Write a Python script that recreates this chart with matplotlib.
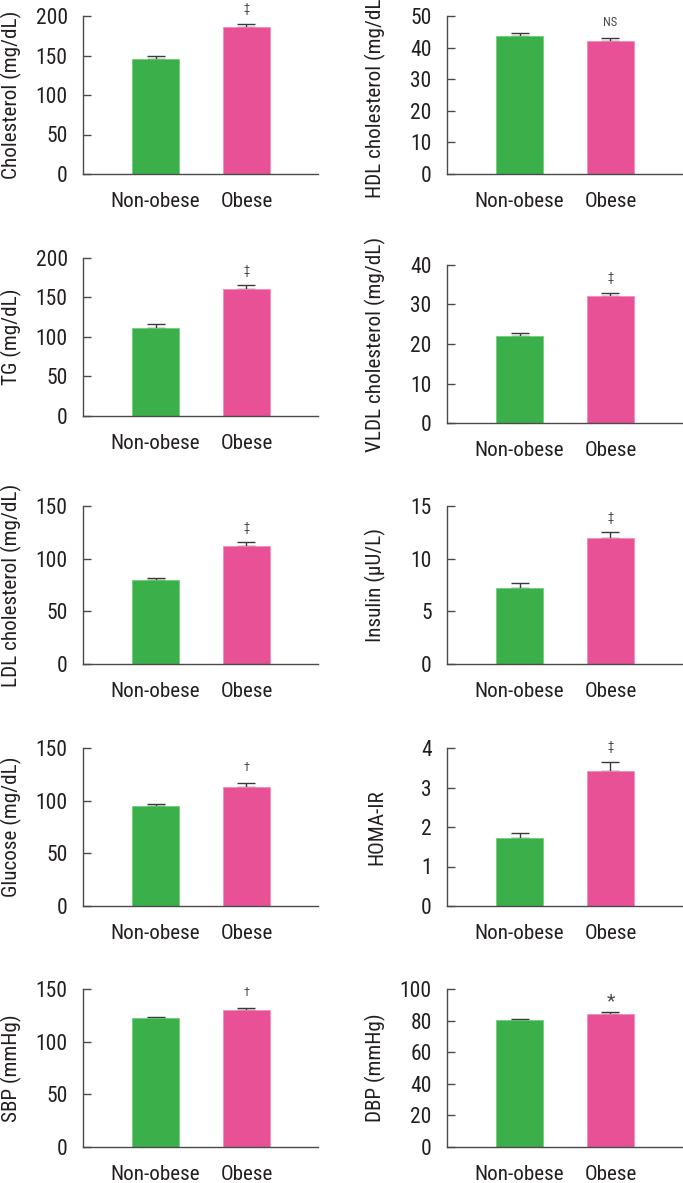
import numpy as np
import matplotlib
matplotlib.use("Agg")
import matplotlib.pyplot as plt

plt.rcParams['font.family'] = ['Roboto Condensed', 'Archivo Narrow', 'DejaVu Sans']

groups = ["Non-obese", "Obese"]
ylabels = ["Cholesterol (mg/dL)", "HDL cholesterol (mg/dL)", "TG (mg/dL)",
           "VLDL cholesterol (mg/dL)", "LDL cholesterol (mg/dL)", "Insulin (\u03bcU/L)",
           "Glucose (mg/dL)", "HOMA-IR", "SBP (mmHg)", "DBP (mmHg)"]
non_obese = [146, 43.8, 110.4, 22.0, 79.5, 7.2, 95.2, 1.73, 122.2, 80.2]
non_obese_se = [3.4, 0.7, 5.1, 0.9, 2.5, 0.5, 1.6, 0.12, 1.6, 1.0]
obese = [186.5, 42.1, 160.3, 32.1, 112.0, 11.96, 112.6, 3.42, 130.0, 84.2]
obese_se = [3.5, 0.9, 4.7, 0.84, 3.5, 0.54, 4.4, 0.22, 2.0, 1.0]
ymax = [200, 50, 200, 40, 150, 15, 150, 4, 150, 100]
ystep = [50, 10, 50, 10, 50, 5, 50, 1, 50, 20]
marks = ["\u2021", "NS", "\u2021", "\u2021", "\u2021", "\u2021", "\u2020", "\u2021", "\u2020", "*"]

W, H = 683, 1183
green = "#3bb04a"
pink = "#e85196"
txt = "#231f20"
axcol = "#4a4a4a"

fig = plt.figure(figsize=(W / 100, H / 100), dpi=100)

# axes boxes in pixels: (left, top)
lefts = [83, 447]
tops = [[16, 16], [257.7, 265], [506, 506], [748, 748], [989, 989]]
aw, ah = 235, 158

for i in range(10):
    r, c = divmod(i, 2)
    x0 = lefts[c]
    y0 = tops[r][c]
    ax = fig.add_axes([x0 / W, 1 - (y0 + ah) / H, aw / W, ah / H])
    x = np.arange(2)
    vals = [non_obese[i], obese[i]]
    errs = [non_obese_se[i], obese_se[i]]
    ax.errorbar(x, vals, yerr=[[0, 0], errs], fmt='none', ecolor="#3a3a3a",
                elinewidth=1.0, capsize=6.5, capthick=1.0, zorder=1)
    ax.bar(x, vals, width=0.516, color=[green, pink],
           edgecolor=["#6fcf7a", "#f58cbc"], linewidth=0.6, zorder=2)
    top = obese[i] + obese_se[i]
    fs = 9 if marks[i] != "*" else 14
    ax.annotate(marks[i], (1, top), xytext=(0, 11 if marks[i] != "*" else 8),
                textcoords='offset points', ha='center', va='center',
                fontsize=fs, color="#4a4a4a")
    ax.set_xlim(-0.797, 1.786)
    ax.set_ylim(0, ymax[i])
    ax.set_yticks(np.arange(0, ymax[i] + ystep[i] / 2, ystep[i]))
    ax.set_xticks(x)
    ax.set_xticklabels(groups)
    for s in ["top", "right"]:
        ax.spines[s].set_visible(False)
    for s in ["left", "bottom"]:
        ax.spines[s].set_color(axcol)
        ax.spines[s].set_linewidth(1.0)
    ax.tick_params(axis='y', direction='in', length=6, width=1.0, color=axcol,
                   labelsize=15.5, labelcolor=txt, pad=11)
    ax.tick_params(axis='x', length=0, labelsize=15.2, labelcolor=txt, pad=13)
    ax.set_ylabel(ylabels[i], fontsize=15.2, color=txt)
    ax.yaxis.set_label_coords(-0.258, 0.5)

fig.savefig("out.png", dpi=100)
